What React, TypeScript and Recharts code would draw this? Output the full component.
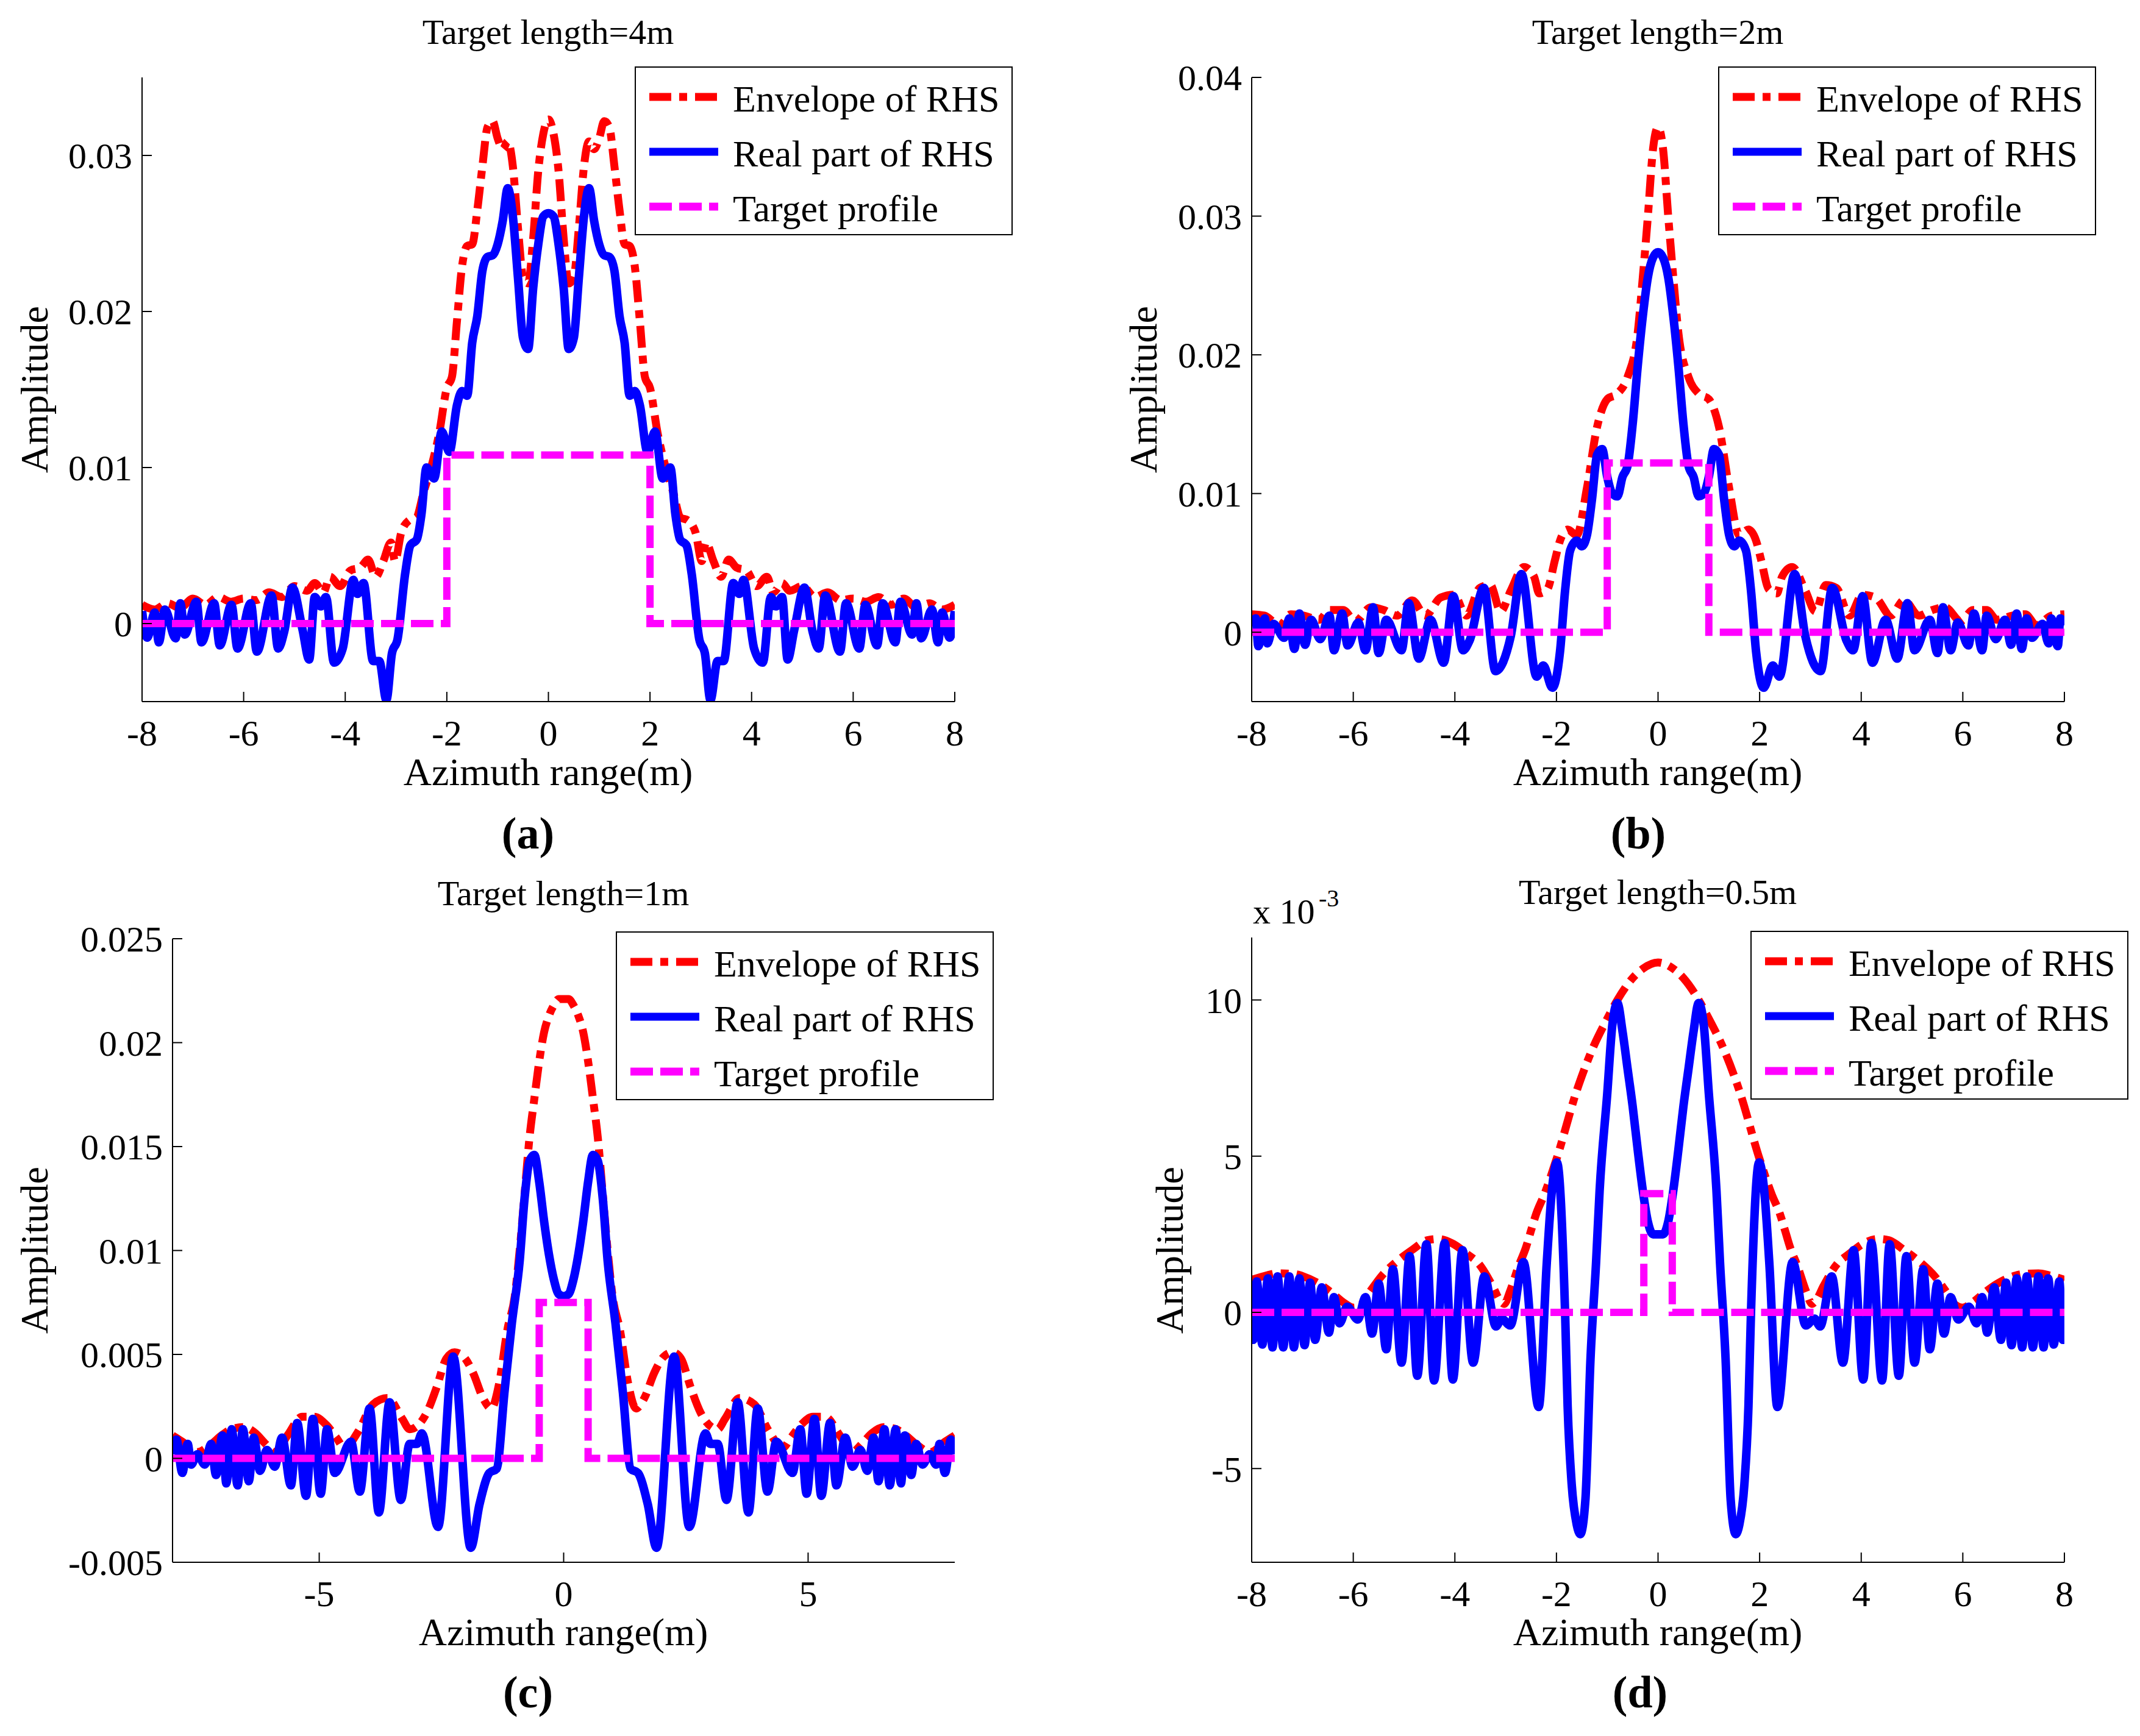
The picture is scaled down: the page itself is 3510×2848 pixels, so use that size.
import React from 'react';
import { LineChart, Line, XAxis, YAxis, Legend } from 'recharts';

const FONT = '"Liberation Serif", "Times New Roman", serif';

type Pair = [number, number];

// (a) target length 4 m
const envelopeA: Pair[] = [
  [-8, 0.0012], [-7.75, 0.0009], [-7.5, 0.0013], [-7.25, 0.001], [-7, 0.0016], [-6.75, 0.0012],
  [-6.5, 0.0017], [-6.25, 0.0014], [-6, 0.0016], [-5.75, 0.0015], [-5.5, 0.002], [-5.25, 0.0017],
  [-5, 0.0024], [-4.75, 0.0021], [-4.6, 0.0026], [-4.43, 0.002], [-4.3, 0.003], [-4.1, 0.0024],
  [-3.9, 0.0034], [-3.7, 0.0036], [-3.55, 0.0041], [-3.4, 0.003], [-3.25, 0.004], [-3.1, 0.0052],
  [-3.02, 0.004], [-2.9, 0.0058], [-2.75, 0.0066], [-2.6, 0.0068], [-2.45, 0.0085], [-2.3, 0.0101],
  [-2.15, 0.0122], [-2, 0.0151], [-1.9, 0.0158], [-1.8, 0.0194], [-1.7, 0.0229], [-1.6, 0.0242],
  [-1.5, 0.0243], [-1.4, 0.0265], [-1.3, 0.0293], [-1.2, 0.0318], [-1.1, 0.0322], [-1, 0.0311],
  [-0.9, 0.0304], [-0.8, 0.0309], [-0.7, 0.0293], [-0.6, 0.0254], [-0.5, 0.0222], [-0.4, 0.0218],
  [-0.3, 0.0247], [-0.2, 0.029], [-0.1, 0.0314], [0, 0.0323],
  [0.1, 0.0314], [0.2, 0.029], [0.3, 0.0247], [0.4, 0.0218], [0.5, 0.0222], [0.6, 0.0254],
  [0.7, 0.0293], [0.8, 0.0309], [0.9, 0.0304], [1, 0.0311], [1.1, 0.0322], [1.2, 0.0318],
  [1.3, 0.0293], [1.4, 0.0265], [1.5, 0.0243], [1.6, 0.0242], [1.7, 0.0229], [1.8, 0.0194],
  [1.9, 0.0158], [2, 0.0151], [2.15, 0.0122], [2.3, 0.0101], [2.45, 0.0085], [2.6, 0.0068],
  [2.75, 0.0066], [2.9, 0.0058], [3.02, 0.004], [3.1, 0.0052], [3.25, 0.004], [3.4, 0.003],
  [3.55, 0.0041], [3.7, 0.0036], [3.9, 0.0034], [4.1, 0.0024], [4.3, 0.003], [4.43, 0.002],
  [4.6, 0.0026], [4.75, 0.0021], [5, 0.0024], [5.25, 0.0017], [5.5, 0.002], [5.75, 0.0015],
  [6, 0.0016], [6.25, 0.0014], [6.5, 0.0017], [6.75, 0.0012], [7, 0.0016], [7.25, 0.001],
  [7.5, 0.0013], [7.75, 0.0009], [8, 0.0012],
];

const realA: Pair[] = [
  [-8, 0.0008], [-7.9, -0.0009], [-7.75, 0.0007], [-7.67, -0.0012], [-7.55, 0.0009], [-7.34, -0.00095],
  [-7.245, 0.0013], [-7.16, -0.0007], [-6.93, 0.0014], [-6.83, -0.0012], [-6.58, 0.0013], [-6.47, -0.0014],
  [-6.24, 0.0012], [-6.12, -0.0016], [-5.86, 0.0013], [-5.74, -0.0018], [-5.45, 0.0018], [-5.32, -0.0016],
  [-5.2, -0.0005], [-5.04, 0.0023], [-4.84, -0.0004], [-4.71, -0.0023], [-4.6, 0.0017], [-4.48, 0.0011],
  [-4.38, 0.0017], [-4.22, -0.0025], [-4.05, -0.0016], [-3.84, 0.0028], [-3.76, 0.0019], [-3.64, 0.0026],
  [-3.45, -0.0024], [-3.33, -0.0024], [-3.19, -0.0049], [-3.08, -0.0019], [-2.97, -0.001], [-2.82, 0.0032],
  [-2.72, 0.005], [-2.59, 0.0054], [-2.5, 0.007], [-2.4, 0.01], [-2.25, 0.0093], [-2.1, 0.0123],
  [-1.95, 0.011], [-1.8, 0.014], [-1.7, 0.0149], [-1.6, 0.0146], [-1.5, 0.018], [-1.4, 0.0197],
  [-1.3, 0.0226], [-1.2, 0.0235], [-1.1, 0.0236], [-1, 0.0243], [-0.9, 0.0258], [-0.8, 0.0279],
  [-0.7, 0.0261], [-0.6, 0.0222], [-0.5, 0.0183], [-0.4, 0.0176], [-0.3, 0.0215], [-0.2, 0.0243],
  [-0.1, 0.0261], [0, 0.0263],
  [0.1, 0.0261], [0.2, 0.0243], [0.3, 0.0215], [0.4, 0.0176], [0.5, 0.0183], [0.6, 0.0222],
  [0.7, 0.0261], [0.8, 0.0279], [0.9, 0.0258], [1, 0.0243], [1.1, 0.0236], [1.2, 0.0235],
  [1.3, 0.0226], [1.4, 0.0197], [1.5, 0.018], [1.6, 0.0146], [1.7, 0.0149], [1.8, 0.014],
  [1.95, 0.011], [2.1, 0.0123], [2.25, 0.0093], [2.4, 0.01], [2.5, 0.007], [2.59, 0.0054],
  [2.72, 0.005], [2.82, 0.0032], [2.97, -0.001], [3.08, -0.0019], [3.19, -0.0049], [3.33, -0.0024],
  [3.45, -0.0024], [3.64, 0.0026], [3.76, 0.0019], [3.84, 0.0028], [4.05, -0.0016], [4.22, -0.0025],
  [4.38, 0.0017], [4.48, 0.0011], [4.6, 0.0017], [4.71, -0.0023], [4.84, -0.0004], [5.04, 0.0023],
  [5.2, -0.0005], [5.32, -0.0016], [5.45, 0.0018], [5.74, -0.0018], [5.86, 0.0013], [6.12, -0.0016],
  [6.24, 0.0012], [6.47, -0.0014], [6.58, 0.0013], [6.83, -0.0012], [6.93, 0.0014], [7.16, -0.0007],
  [7.245, 0.0013], [7.34, -0.00095], [7.55, 0.0009], [7.67, -0.0012], [7.75, 0.0007], [7.9, -0.0009],
  [8, 0.0008],
];

const profileA: Pair[] = [[-8, 0], [-2, 0], [-2, 0.0108], [2, 0.0108], [2, 0], [8, 0]];

// (b) target length 2 m
const envelopeB: Pair[] = [
  [-8, 0.0013], [-7.75, 0.0012], [-7.45, 0.0005], [-7.23, 0.0013], [-6.98, 0.0012], [-6.67, 0.0009],
  [-6.47, 0.0016], [-6.2, 0.0016], [-5.96, 0.0008], [-5.65, 0.0018], [-5.4, 0.0016], [-5.14, 0.0012],
  [-4.84, 0.0023], [-4.58, 0.0012], [-4.28, 0.0025], [-4.02, 0.0027], [-3.77, 0.0012], [-3.51, 0.0032],
  [-3.3, 0.0034], [-3.1, 0.0015], [-2.9, 0.003], [-2.64, 0.0047], [-2.44, 0.004], [-2.34, 0.0028],
  [-2.18, 0.0031], [-2.03, 0.0052], [-1.93, 0.0066], [-1.78, 0.0074], [-1.6, 0.007], [-1.4, 0.0104],
  [-1.2, 0.0148], [-1, 0.0168], [-0.8, 0.0172], [-0.6, 0.0184], [-0.4, 0.0216], [-0.3, 0.0256],
  [-0.2, 0.03], [-0.1, 0.0348], [0, 0.0364],
  [0.1, 0.0348], [0.2, 0.03], [0.3, 0.0256], [0.4, 0.0216], [0.6, 0.0184], [0.8, 0.0172],
  [1, 0.0168], [1.2, 0.0148], [1.4, 0.0104], [1.6, 0.007], [1.78, 0.0074], [1.93, 0.0066],
  [2.03, 0.0052], [2.18, 0.0031], [2.34, 0.0028], [2.44, 0.004], [2.64, 0.0047], [2.9, 0.003],
  [3.1, 0.0015], [3.3, 0.0034], [3.51, 0.0032], [3.77, 0.0012], [4.02, 0.0027], [4.28, 0.0025],
  [4.58, 0.0012], [4.84, 0.0023], [5.14, 0.0012], [5.4, 0.0016], [5.65, 0.0018], [5.96, 0.0008],
  [6.2, 0.0016], [6.47, 0.0016], [6.67, 0.0009], [6.98, 0.0012], [7.23, 0.0013], [7.45, 0.0005],
  [7.75, 0.0012], [8, 0.0013],
];

const realB: Pair[] = [
  [-8, 0.0005], [-7.92, 0.001], [-7.87, -0.001], [-7.74, 0.001], [-7.69, -0.0008], [-7.57, 0.0006],
  [-7.36, -0.0004], [-7.26, 0.001], [-7.16, -0.0012], [-7.06, 0.00135], [-6.95, -0.0009], [-6.83, 0.0009],
  [-6.65, -0.0005], [-6.47, 0.0012], [-6.38, -0.0013], [-6.22, 0.00135], [-6.11, -0.00095], [-5.9, 0.0007],
  [-5.76, -0.0013], [-5.61, 0.0018], [-5.5, -0.0015], [-5.35, 0.0009], [-5.05, -0.0013], [-4.91, 0.0021],
  [-4.71, -0.0019], [-4.48, 0.0009], [-4.22, -0.0022], [-4.03, 0.0026], [-3.84, -0.0013], [-3.71, -0.0006],
  [-3.43, 0.0032], [-3.2, -0.0028], [-2.9, -0.0003], [-2.69, 0.0042], [-2.39, -0.0032], [-2.26, -0.0024],
  [-2.08, -0.004], [-1.93, -0.0014], [-1.83, 0.003], [-1.73, 0.0059], [-1.6, 0.0066], [-1.5, 0.0062],
  [-1.4, 0.007], [-1.3, 0.0096], [-1.2, 0.0128], [-1.1, 0.0132], [-1, 0.0112], [-0.9, 0.01],
  [-0.8, 0.0098], [-0.7, 0.0112], [-0.6, 0.012], [-0.5, 0.015], [-0.4, 0.0192], [-0.3, 0.0228],
  [-0.2, 0.0256], [-0.1, 0.027], [0, 0.0274],
  [0.1, 0.027], [0.2, 0.0256], [0.3, 0.0228], [0.4, 0.0192], [0.5, 0.015], [0.6, 0.012],
  [0.7, 0.0112], [0.8, 0.0098], [0.9, 0.01], [1, 0.0112], [1.1, 0.0132], [1.2, 0.0128],
  [1.3, 0.0096], [1.4, 0.007], [1.5, 0.0062], [1.6, 0.0066], [1.73, 0.0059], [1.83, 0.003],
  [1.93, -0.0014], [2.08, -0.004], [2.26, -0.0024], [2.39, -0.0032], [2.69, 0.0042], [2.9, -0.0003],
  [3.2, -0.0028], [3.43, 0.0032], [3.71, -0.0006], [3.84, -0.0013], [4.03, 0.0026], [4.22, -0.0022],
  [4.48, 0.0009], [4.71, -0.0019], [4.91, 0.0021], [5.05, -0.0013], [5.35, 0.0009], [5.5, -0.0015],
  [5.61, 0.0018], [5.76, -0.0013], [5.9, 0.0007], [6.11, -0.00095], [6.22, 0.00135], [6.38, -0.0013],
  [6.47, 0.0012], [6.65, -0.0005], [6.83, 0.0009], [6.95, -0.0009], [7.06, 0.00135], [7.16, -0.0012],
  [7.26, 0.001], [7.36, -0.0004], [7.57, 0.0006], [7.69, -0.0008], [7.74, 0.001], [7.87, -0.001],
  [7.92, 0.001], [8, 0.0005],
];

const profileB: Pair[] = [[-8, 0], [-1, 0], [-1, 0.0122], [1, 0.0122], [1, 0], [8, 0]];

// (c) target length 1 m
const envelopeC: Pair[] = [
  [-8, 0.0011], [-7.8, 0.0008], [-7.5, 0.0003], [-7.2, 0.0007], [-7, 0.0011], [-6.8, 0.0014],
  [-6.55, 0.0015], [-6.3, 0.0012], [-6.1, 0.0007], [-5.9, 0.0003], [-5.65, 0.0011], [-5.35, 0.002],
  [-5.1, 0.002], [-4.85, 0.0016], [-4.65, 0.001], [-4.48, 0.0005], [-4.2, 0.0013], [-3.9, 0.0026],
  [-3.6, 0.0029], [-3.3, 0.0019], [-3.15, 0.0014], [-2.8, 0.0022], [-2.6, 0.0034], [-2.4, 0.0048],
  [-2.23, 0.0051], [-2.05, 0.0049], [-1.85, 0.0041], [-1.65, 0.0029], [-1.48, 0.0024], [-1.32, 0.0036],
  [-1.15, 0.0062], [-1, 0.0078], [-0.9, 0.01], [-0.8, 0.0127], [-0.7, 0.0154], [-0.6, 0.0173],
  [-0.5, 0.0191], [-0.4, 0.0205], [-0.3, 0.0213], [-0.2, 0.0218], [-0.1, 0.0221], [0, 0.0221],
  [0.1, 0.0221], [0.2, 0.0218], [0.3, 0.0213], [0.4, 0.0205], [0.5, 0.0191], [0.6, 0.0173],
  [0.7, 0.0154], [0.8, 0.0127], [0.9, 0.01], [1, 0.0078], [1.15, 0.0062], [1.32, 0.0036],
  [1.48, 0.0024], [1.65, 0.0029], [1.85, 0.0041], [2.05, 0.0049], [2.23, 0.0051], [2.4, 0.0048],
  [2.6, 0.0034], [2.8, 0.0022], [3.15, 0.0014], [3.3, 0.0019], [3.6, 0.0029], [3.9, 0.0026],
  [4.2, 0.0013], [4.48, 0.0005], [4.65, 0.001], [4.85, 0.0016], [5.1, 0.002], [5.35, 0.002],
  [5.65, 0.0011], [5.9, 0.0003], [6.1, 0.0007], [6.3, 0.0012], [6.55, 0.0015], [6.8, 0.0014],
  [7, 0.0011], [7.2, 0.0007], [7.5, 0.0003], [7.8, 0.0008], [8, 0.0011],
];

const realC: Pair[] = [
  [-8, 0.0002], [-7.92, 0.0009], [-7.8, -0.0007], [-7.69, 0.0007], [-7.62, -0.0003], [-7.49, 0.0002],
  [-7.34, -0.0003], [-7.21, 0.0007], [-7.11, -0.0008], [-6.98, 0.0011], [-6.9, -0.0012], [-6.79, 0.0014],
  [-6.67, -0.0013], [-6.56, 0.0014], [-6.44, -0.0011], [-6.34, 0.001], [-6.21, -0.0006], [-6.07, 0.0004],
  [-5.91, -0.0004], [-5.76, 0.001], [-5.58, -0.0013], [-5.45, 0.0017], [-5.27, -0.0018], [-5.13, 0.0019],
  [-4.97, -0.0017], [-4.84, 0.0014], [-4.68, -0.0007], [-4.35, 0.0008], [-4.17, -0.0016], [-3.97, 0.0024],
  [-3.78, -0.0026], [-3.56, 0.0027], [-3.33, -0.002], [-3.15, 0.0007], [-3, 0.0007], [-2.9, 0.0012],
  [-2.57, -0.0033], [-2.26, 0.0049], [-1.9, -0.0043], [-1.72, -0.0022], [-1.52, -0.0007], [-1.37, -0.0005],
  [-1.21, 0.0032], [-1.06, 0.0065], [-0.9, 0.0095], [-0.8, 0.0125], [-0.7, 0.0143], [-0.6, 0.0146],
  [-0.5, 0.0133], [-0.4, 0.0114], [-0.3, 0.0098], [-0.2, 0.0086], [-0.1, 0.0079], [0, 0.0078],
  [0.1, 0.0079], [0.2, 0.0086], [0.3, 0.0098], [0.4, 0.0114], [0.5, 0.0133], [0.6, 0.0146],
  [0.7, 0.0143], [0.8, 0.0125], [0.9, 0.0095], [1.06, 0.0065], [1.21, 0.0032], [1.37, -0.0005],
  [1.52, -0.0007], [1.72, -0.0022], [1.9, -0.0043], [2.26, 0.0049], [2.57, -0.0033], [2.9, 0.0012],
  [3, 0.0007], [3.15, 0.0007], [3.33, -0.002], [3.56, 0.0027], [3.78, -0.0026], [3.97, 0.0024],
  [4.17, -0.0016], [4.35, 0.0008], [4.68, -0.0007], [4.84, 0.0014], [4.97, -0.0017], [5.13, 0.0019],
  [5.27, -0.0018], [5.45, 0.0017], [5.58, -0.0013], [5.76, 0.001], [5.91, -0.0004], [6.07, 0.0004],
  [6.21, -0.0006], [6.34, 0.001], [6.44, -0.0011], [6.56, 0.0014], [6.67, -0.0013], [6.79, 0.0014],
  [6.9, -0.0012], [6.98, 0.0011], [7.11, -0.0008], [7.21, 0.0007], [7.34, -0.0003], [7.49, 0.0002],
  [7.62, -0.0003], [7.69, 0.0007], [7.8, -0.0007], [7.92, 0.0009], [8, 0.0002],
];

const profileC: Pair[] = [[-8, 0], [-0.5, 0], [-0.5, 0.0075], [0.5, 0.0075], [0.5, 0], [8, 0]];

// (d) target length 0.5 m, values in units of 1e-3
const envelopeD: Pair[] = [
  [-8, 1.04], [-7.69, 1.19], [-7.49, 1.25], [-7.18, 1.23], [-6.98, 1.15], [-6.68, 0.92],
  [-6.42, 0.62], [-6.22, 0.35], [-5.99, 0.15], [-5.86, 0.23], [-5.66, 0.69], [-5.45, 1.15],
  [-5.15, 1.62], [-4.84, 2.0], [-4.54, 2.31], [-4.33, 2.35], [-4.03, 2.19], [-3.77, 1.88],
  [-3.52, 1.54], [-3.26, 0.85], [-3.11, 0.38], [-3.03, 0.27], [-2.91, 0.69], [-2.75, 1.46],
  [-2.6, 2.08], [-2.5, 2.62], [-2.4, 3.15], [-2.24, 3.77], [-2, 4.9], [-1.6, 7.1],
  [-1.3, 8.4], [-1, 9.4], [-0.8, 10.0], [-0.5, 10.7], [-0.3, 11.0], [0, 11.2],
  [0.3, 11.0], [0.5, 10.7], [0.8, 10.0], [1, 9.4], [1.3, 8.4], [1.6, 7.1],
  [2, 4.9], [2.24, 3.77], [2.4, 3.15], [2.5, 2.62], [2.6, 2.08], [2.75, 1.46],
  [2.91, 0.69], [3.03, 0.27], [3.11, 0.38], [3.26, 0.85], [3.52, 1.54], [3.77, 1.88],
  [4.03, 2.19], [4.33, 2.35], [4.54, 2.31], [4.84, 2.0], [5.15, 1.62], [5.45, 1.15],
  [5.66, 0.69], [5.86, 0.23], [5.99, 0.15], [6.22, 0.35], [6.42, 0.62], [6.68, 0.92],
  [6.98, 1.15], [7.18, 1.23], [7.49, 1.25], [7.69, 1.19], [8, 1.04],
];

const realD: Pair[] = [
  [-8, 0.2], [-7.97, -0.88], [-7.9, 0.99], [-7.79, -1.03], [-7.68, 1.09], [-7.59, -1.12],
  [-7.49, 1.15], [-7.38, -1.12], [-7.26, 1.15], [-7.17, -1.12], [-7.06, 1.09], [-6.96, -1.05],
  [-6.85, 0.95], [-6.75, -0.88], [-6.62, 0.8], [-6.48, -0.65], [-6.38, 0.49], [-6.27, -0.35],
  [-6.12, 0.18], [-5.91, -0.23], [-5.76, 0.49], [-5.63, -0.68], [-5.5, 0.92], [-5.35, -1.18],
  [-5.22, 1.38], [-5.05, -1.61], [-4.89, 1.8], [-4.74, -2.03], [-4.56, 2.18], [-4.41, -2.18],
  [-4.2, 2.22], [-4.04, -2.15], [-3.85, 1.99], [-3.64, -1.61], [-3.42, 1.15], [-3.19, -0.45],
  [-3.08, -0.2], [-2.91, -0.42], [-2.65, 1.61], [-2.35, -3.03], [-2.19, 1.6], [-2.09, 3.9],
  [-1.99, 4.8], [-1.83, 0], [-1.78, -3.0], [-1.7, -5.5], [-1.6, -6.8], [-1.53, -7.1],
  [-1.43, -6.0], [-1.33, -1.5], [-1.22, 1.6], [-1.15, 3.9], [-1, 7.0], [-0.9, 9.2],
  [-0.8, 9.9], [-0.7, 9.0], [-0.6, 7.8], [-0.5, 6.6], [-0.4, 5.2], [-0.3, 3.9],
  [-0.2, 2.9], [-0.1, 2.5], [0, 2.5],
  [0.1, 2.5], [0.2, 2.9], [0.3, 3.9], [0.4, 5.2], [0.5, 6.6], [0.6, 7.8],
  [0.7, 9.0], [0.8, 9.9], [0.9, 9.2], [1, 7.0], [1.15, 3.9], [1.22, 1.6],
  [1.33, -1.5], [1.43, -6.0], [1.53, -7.1], [1.6, -6.8], [1.7, -5.5], [1.78, -3.0],
  [1.83, 0], [1.99, 4.8], [2.09, 3.9], [2.19, 1.6], [2.35, -3.03], [2.65, 1.61],
  [2.91, -0.42], [3.08, -0.2], [3.19, -0.45], [3.42, 1.15], [3.64, -1.61], [3.85, 1.99],
  [4.04, -2.15], [4.2, 2.22], [4.41, -2.18], [4.56, 2.18], [4.74, -2.03], [4.89, 1.8],
  [5.05, -1.61], [5.22, 1.38], [5.35, -1.18], [5.5, 0.92], [5.63, -0.68], [5.76, 0.49],
  [5.91, -0.23], [6.12, 0.18], [6.27, -0.35], [6.38, 0.49], [6.48, -0.65], [6.62, 0.8],
  [6.75, -0.88], [6.85, 0.95], [6.96, -1.05], [7.06, 1.09], [7.17, -1.12], [7.26, 1.15],
  [7.38, -1.12], [7.49, 1.15], [7.59, -1.12], [7.68, 1.09], [7.79, -1.03], [7.9, 0.99],
  [7.97, -0.88], [8, 0.2],
];

const profileD: Pair[] = [[-8, 0], [-0.28, 0], [-0.28, 3.8], [0.28, 3.8], [0.28, 0], [8, 0]];

const xTicksEven = [-8, -6, -4, -2, 0, 2, 4, 6, 8];
const xTicksFive = [-5, 0, 5];
const yTicksA = [0, 0.01, 0.02, 0.03];
const yTicksB = [0, 0.01, 0.02, 0.03, 0.04];
const yTicksC = [-0.005, 0, 0.005, 0.01, 0.015, 0.02, 0.025];
const yTicksD = [-5, 0, 5, 10];

const seriesNames = ['Envelope of RHS', 'Real part of RHS', 'Target profile'];
const titles = ['Target length=4m', 'Target length=2m', 'Target length=1m', 'Target length=0.5m'];
const panelLetters = ['a', 'b', 'c', 'd'];

const RED = '#ff0000';
const BLUE = '#0000ff';
const MAGENTA = '#ff00ff';
const ENV_DASH = '36 13 13 13';
const PROFILE_DASH = '37 12';

const toPoints = (pairs: Pair[]) => pairs.map(([x, y]) => ({ x, y }));

const QW = 1755;
const QH = 1424;
const X_AXIS_H = 100;

const LegendBox = () => {
  const rows = [
    { color: RED, dash: ENV_DASH },
    { color: BLUE, dash: undefined },
    { color: MAGENTA, dash: PROFILE_DASH },
  ];
  return (
    <svg width={620} height={277} style={{ display: 'block' }}>
      <rect x={1} y={1} width={618} height={275} fill="#fff" stroke="#000" strokeWidth={2} />
      {rows.map((r, i) => (
        <g key={i}>
          <line x1={24} x2={137} y1={50 + 90 * i} y2={50 + 90 * i} stroke={r.color} strokeWidth={13} strokeDasharray={r.dash} />
          <text x={161} y={74 + 90 * i} fontFamily={FONT} fontSize={62} fill="#000">
            {seriesNames[i]}
          </text>
        </g>
      ))}
    </svg>
  );
};

type PanelProps = {
  left: number;
  top: number;
  plot: { l: number; r: number; t: number; b: number };
  envelope: Pair[];
  real: Pair[];
  profile: Pair[];
  xTicks: number[];
  yTicks: number[];
  yDomain: [number, number];
  legendAt: { x: number; y: number };
};

const axisLine = { stroke: '#000', strokeWidth: 2 };
const tickText = { fill: '#000', fontSize: 60, fontFamily: FONT };

const Panel = (p: PanelProps) => (
  <div style={{ position: 'absolute', left: p.left, top: p.top, width: QW, height: QH }}>
    <LineChart
      width={QW}
      height={QH}
      margin={{ top: p.plot.t, right: QW - p.plot.r, bottom: QH - p.plot.b - X_AXIS_H, left: 0 }}
    >
      <XAxis
        xAxisId="bottom"
        type="number"
        dataKey="x"
        domain={[-8, 8]}
        ticks={p.xTicks}
        interval={0}
        allowDataOverflow
        height={X_AXIS_H}
        tickSize={-16}
        tickMargin={45}
        axisLine={axisLine}
        tickLine={axisLine}
        tick={tickText}
      />
      <XAxis
        xAxisId="top"
        orientation="top"
        type="number"
        dataKey="x"
        domain={[-8, 8]}
        ticks={p.xTicks}
        interval={0}
        allowDataOverflow
        height={0}
        tickSize={-16}
        tick={false}
        axisLine={axisLine}
        tickLine={axisLine}
      />
      <YAxis
        yAxisId="left"
        type="number"
        domain={p.yDomain}
        ticks={p.yTicks}
        interval={0}
        allowDataOverflow
        width={p.plot.l}
        tickSize={-16}
        tickMargin={32}
        axisLine={axisLine}
        tickLine={axisLine}
        tick={tickText}
      />
      <YAxis
        yAxisId="right"
        orientation="right"
        type="number"
        domain={p.yDomain}
        ticks={p.yTicks}
        interval={0}
        allowDataOverflow
        width={0}
        tickSize={-16}
        tick={false}
        axisLine={axisLine}
        tickLine={axisLine}
      />
      <Line
        xAxisId="bottom"
        yAxisId="left"
        data={toPoints(p.envelope)}
        dataKey="y"
        name={seriesNames[0]}
        type="monotone"
        stroke={RED}
        strokeWidth={13}
        strokeDasharray={ENV_DASH}
        dot={false}
        activeDot={false}
        isAnimationActive={false}
      />
      <Line
        xAxisId="bottom"
        yAxisId="left"
        data={toPoints(p.real)}
        dataKey="y"
        name={seriesNames[1]}
        type="monotone"
        stroke={BLUE}
        strokeWidth={14}
        dot={false}
        activeDot={false}
        isAnimationActive={false}
      />
      <Line
        xAxisId="bottom"
        yAxisId="left"
        data={toPoints(p.profile)}
        dataKey="y"
        name={seriesNames[2]}
        type="linear"
        stroke={MAGENTA}
        strokeWidth={12}
        strokeDasharray={PROFILE_DASH}
        dot={false}
        activeDot={false}
        isAnimationActive={false}
      />
      <Legend
        layout="horizontal"
        verticalAlign="middle"
        align="center"
        wrapperStyle={{ left: p.legendAt.x, top: p.legendAt.y, width: 620, height: 277 }}
        content={() => <LegendBox />}
      />
    </LineChart>
  </div>
);

// page positions of the text around each plot
const titlePos = [
  { x: 899, y: 72 },
  { x: 2719, y: 72 },
  { x: 924, y: 1485 },
  { x: 2719, y: 1483 },
];
const xLabelPos = [
  { x: 899, y: 1288 },
  { x: 2719, y: 1288 },
  { x: 924, y: 2699 },
  { x: 2719, y: 2699 },
];
const yLabelPos = [
  { x: 78, y: 639 },
  { x: 1897, y: 639 },
  { x: 78, y: 2051 },
  { x: 1940, y: 2051 },
];
const letterPos = [
  { x: 866, y: 1392 },
  { x: 2687, y: 1392 },
  { x: 866, y: 2801 },
  { x: 2690, y: 2801 },
];

export default function App() {
  return (
    <div style={{ position: 'absolute', left: 0, top: 0, width: 3510, height: 2848, background: '#fff', overflow: 'hidden' }}>
      <Panel
        left={0}
        top={0}
        plot={{ l: 233, r: 1566, t: 127, b: 1151 }}
        envelope={envelopeA}
        real={realA}
        profile={profileA}
        xTicks={xTicksEven}
        yTicks={yTicksA}
        yDomain={[-0.005, 0.035]}
        legendAt={{ x: 1041, y: 109 }}
      />
      <Panel
        left={QW}
        top={0}
        plot={{ l: 298, r: 1631, t: 127, b: 1151 }}
        envelope={envelopeB}
        real={realB}
        profile={profileB}
        xTicks={xTicksEven}
        yTicks={yTicksB}
        yDomain={[-0.005, 0.04]}
        legendAt={{ x: 1063, y: 109 }}
      />
      <Panel
        left={0}
        top={QH}
        plot={{ l: 283, r: 1566, t: 116, b: 1139 }}
        envelope={envelopeC}
        real={realC}
        profile={profileC}
        xTicks={xTicksFive}
        yTicks={yTicksC}
        yDomain={[-0.005, 0.025]}
        legendAt={{ x: 1010, y: 104 }}
      />
      <Panel
        left={QW}
        top={QH}
        plot={{ l: 298, r: 1631, t: 114, b: 1139 }}
        envelope={envelopeD}
        real={realD}
        profile={profileD}
        xTicks={xTicksEven}
        yTicks={yTicksD}
        yDomain={[-8, 12]}
        legendAt={{ x: 1116, y: 103 }}
      />
      <svg
        width={3510}
        height={2848}
        style={{ position: 'absolute', left: 0, top: 0, pointerEvents: 'none' }}
        fontFamily={FONT}
        fill="#000"
      >
        {titles.map((t, i) => (
          <text key={`t${i}`} x={titlePos[i].x} y={titlePos[i].y} fontSize={58} textAnchor="middle">
            {t}
          </text>
        ))}
        {xLabelPos.map((p, i) => (
          <text key={`x${i}`} x={p.x} y={p.y} fontSize={64} textAnchor="middle">
            Azimuth range(m)
          </text>
        ))}
        {yLabelPos.map((p, i) => (
          <text key={`y${i}`} x={p.x} y={p.y} fontSize={64} textAnchor="middle" transform={`rotate(-90 ${p.x} ${p.y})`}>
            Amplitude
          </text>
        ))}
        {letterPos.map((p, i) => (
          <text key={`l${i}`} x={p.x} y={p.y} fontSize={74} textAnchor="middle" fontWeight="bold">
            ({panelLetters[i]})
          </text>
        ))}
        <text x={2055} y={1515} fontSize={58}>x 10</text>
        <text x={2163} y={1487} fontSize={40}>-3</text>
      </svg>
    </div>
  );
}
